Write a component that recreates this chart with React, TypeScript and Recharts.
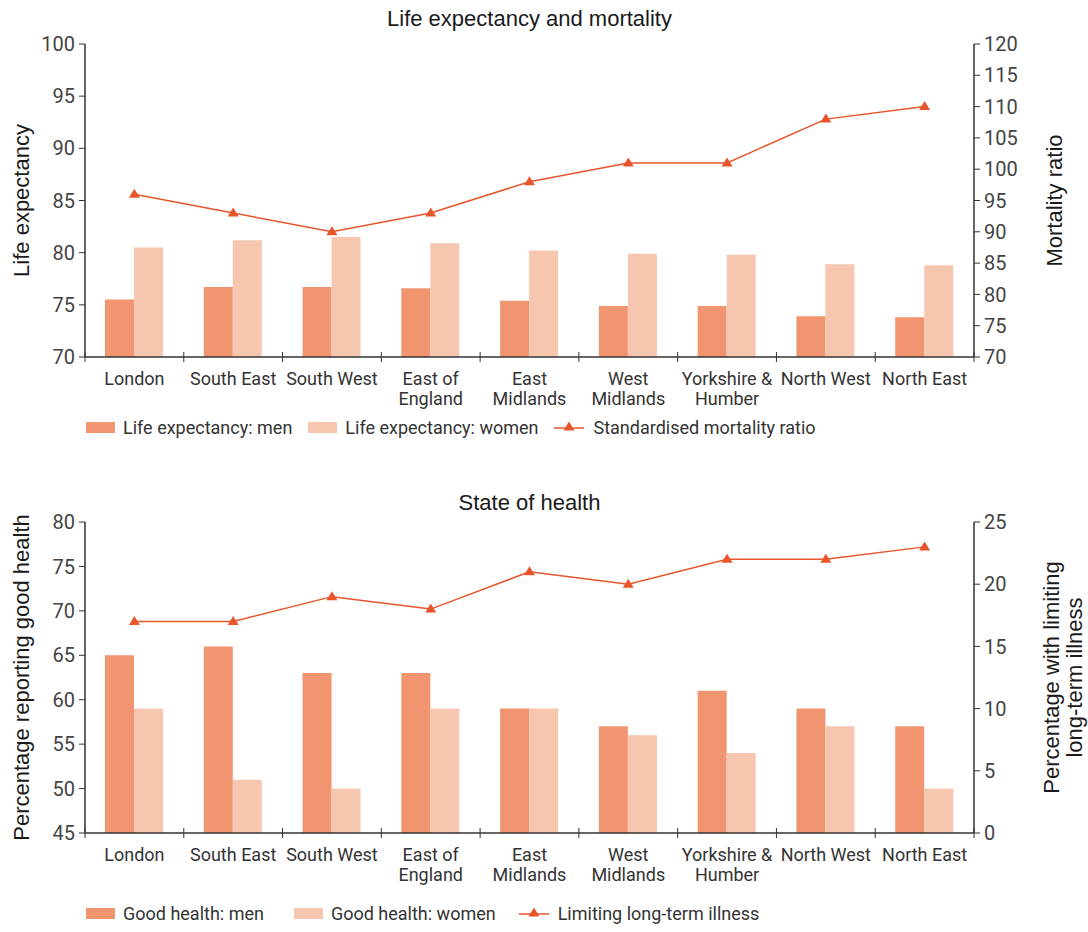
import { ComposedChart, Bar, Line, XAxis, YAxis, Label } from "recharts";

// categories (line breaks as they appear under the axis)
const regions = [
  "London",
  "South East",
  "South West",
  "East of\nEngland",
  "East\nMidlands",
  "West\nMidlands",
  "Yorkshire &\nHumber",
  "North West",
  "North East",
];

// life expectancy and mortality
const lifeMen = [75.5, 76.7, 76.7, 76.6, 75.4, 74.9, 74.9, 73.9, 73.8];
const lifeWomen = [80.5, 81.2, 81.5, 80.9, 80.2, 79.9, 79.8, 78.9, 78.8];
const mortality = [96, 93, 90, 93, 98, 101, 101, 108, 110];

// state of health
const healthMen = [65, 66, 63, 63, 59, 57, 61, 59, 57];
const healthWomen = [59, 51, 50, 59, 59, 56, 54, 57, 50];
const illness = [17, 17, 19, 18, 21, 20, 22, 22, 23];

const lifeTicks = [70, 75, 80, 85, 90, 95, 100];
const mortalityTicks = [70, 75, 80, 85, 90, 95, 100, 105, 110, 115, 120];
const healthTicks = [45, 50, 55, 60, 65, 70, 75, 80];
const illnessTicks = [0, 5, 10, 15, 20, 25];

const MEN = "#F0956F";
const WOMEN = "#F7C6AF";
const LINE = "#E8552B";
const AXIS = "#333333";
const LABEL_FONT = "'Liberation Sans', Arial, sans-serif";
const W = 1088;
const H = 420;
const XAXIS_H = 63;
const LEFT_W = 85;
const RIGHT_W = 114;
const BAND = (W - LEFT_W - RIGHT_W) / regions.length;

const lifeData = regions.map((region, i) => ({
  region,
  men: lifeMen[i],
  women: lifeWomen[i],
  line: mortality[i],
}));

const healthData = regions.map((region, i) => ({
  region,
  men: healthMen[i],
  women: healthWomen[i],
  line: illness[i],
}));

function Triangle(props: any) {
  const { cx, cy } = props;
  if (cx == null || cy == null) return null;
  return (
    <path
      d={`M${cx},${cy - 5.5} L${cx + 5.5},${cy + 3.5} L${cx - 5.5},${cy + 3.5} Z`}
      fill={LINE}
    />
  );
}

function RegionTick(props: any) {
  const { x, payload, index, axisY } = props;
  const lines = String(payload.value).split("\n");
  const last = index === regions.length - 1;
  return (
    <g>
      <line x1={x - BAND / 2} x2={x - BAND / 2} y1={axisY - 5} y2={axisY + 5} stroke={AXIS} />
      {last && (
        <line x1={x + BAND / 2} x2={x + BAND / 2} y1={axisY - 5} y2={axisY + 5} stroke={AXIS} />
      )}
      <text textAnchor="middle" fontSize={18} fill="#333">
        {lines.map((l, i) => (
          <tspan key={i} x={x} y={axisY + 28 + i * 20}>
            {l}
          </tspan>
        ))}
      </text>
    </g>
  );
}

function SideLabel(props: any) {
  const { viewBox, lines, dx } = props;
  if (!viewBox) return null;
  const cy = viewBox.y + viewBox.height / 2;
  const cx0 = viewBox.x + dx;
  return (
    <g>
      {lines.map((l: string, i: number) => {
        const cx = cx0 + (i - (lines.length - 1) / 2) * 23;
        return (
          <text
            key={i}
            x={cx}
            y={cy}
            textAnchor="middle"
            dominantBaseline="central"
            transform={`rotate(-90, ${cx}, ${cy})`}
            fontSize={22}
            fontFamily={LABEL_FONT}
            fill="#1a1a1a"
          >
            {l}
          </text>
        );
      })}
    </g>
  );
}

function LegendRow({ names, y, gaps }: { names: string[]; y: number; gaps: number[] }) {
  return (
    <div
      style={{
        position: "absolute",
        left: 86,
        top: y - 11,
        height: 22,
        display: "flex",
        alignItems: "center",
        fontSize: 18,
        color: "#333",
        whiteSpace: "nowrap",
      }}
    >
      <span style={{ width: 29, height: 11, background: MEN, marginRight: 8 }} />
      <span style={{ marginRight: gaps[0] }}>{names[0]}</span>
      <span style={{ width: 29, height: 11, background: WOMEN, marginRight: 8 }} />
      <span style={{ marginRight: gaps[1] }}>{names[1]}</span>
      <svg width={30} height={12} style={{ marginRight: 9 }}>
        <line x1={0} x2={30} y1={7} y2={7} stroke={LINE} strokeWidth={1.5} />
        <Triangle cx={15} cy={6} />
      </svg>
      <span>{names[2]}</span>
    </div>
  );
}

type PanelProps = {
  top: number;
  marginTop: number;
  title: string;
  titleY: number;
  data: any[];
  leftTicks: number[];
  rightTicks: number[];
  leftLabel: string[];
  rightLabel: string[];
  rightDx: number;
  legend: string[];
  legendY: number;
  legendGaps: number[];
};

function Panel(p: PanelProps) {
  const axisY = H - XAXIS_H;
  return (
    <div style={{ position: "absolute", left: 0, top: p.top, width: W, height: H }}>
      <div
        style={{
          position: "absolute",
          left: LEFT_W,
          width: W - LEFT_W - RIGHT_W,
          top: p.titleY - 13,
          textAlign: "center",
          fontSize: 22,
          lineHeight: "26px",
          fontFamily: LABEL_FONT,
          color: "#1a1a1a",
        }}
      >
        {p.title}
      </div>
      <ComposedChart
        width={W}
        height={H}
        data={p.data}
        margin={{ top: p.marginTop, right: 0, bottom: 0, left: 0 }}
        barGap={0}
      >
        <XAxis
          dataKey="region"
          height={XAXIS_H}
          interval={0}
          tickLine={false}
          axisLine={{ stroke: AXIS, strokeWidth: 1.5 }}
          tick={<RegionTick axisY={axisY} />}
        />
        <YAxis
          yAxisId="left"
          width={LEFT_W}
          domain={[p.leftTicks[0], p.leftTicks[p.leftTicks.length - 1]]}
          ticks={p.leftTicks}
          interval={0}
          allowDataOverflow
          tick={{ fontSize: 20, fill: "#444" }}
          tickSize={6}
          tickMargin={4}
          axisLine={{ stroke: AXIS, strokeWidth: 1.5 }}
          tickLine={{ stroke: AXIS }}
        >
          <Label content={<SideLabel lines={p.leftLabel} dx={21} />} />
        </YAxis>
        <YAxis
          yAxisId="right"
          orientation="right"
          width={RIGHT_W}
          domain={[p.rightTicks[0], p.rightTicks[p.rightTicks.length - 1]]}
          ticks={p.rightTicks}
          interval={0}
          allowDataOverflow
          tick={{ fontSize: 20, fill: "#444" }}
          tickSize={6}
          tickMargin={4}
          axisLine={{ stroke: AXIS, strokeWidth: 1.5 }}
          tickLine={{ stroke: AXIS }}
        >
          <Label content={<SideLabel lines={p.rightLabel} dx={p.rightDx} />} />
        </YAxis>
        <Bar yAxisId="left" dataKey="men" fill={MEN} barSize={29} isAnimationActive={false} />
        <Bar yAxisId="left" dataKey="women" fill={WOMEN} barSize={29} isAnimationActive={false} />
        <Line
          yAxisId="right"
          type="linear"
          dataKey="line"
          stroke={LINE}
          strokeWidth={1.5}
          dot={<Triangle />}
          activeDot={false}
          isAnimationActive={false}
        />
      </ComposedChart>
      <LegendRow names={p.legend} y={p.legendY} gaps={p.legendGaps} />
    </div>
  );
}

export default function App() {
  return (
    <div
      style={{
        position: "absolute",
        left: 0,
        top: 0,
        width: W,
        height: 932,
        background: "#fff",
        fontFamily: "Roboto, sans-serif",
      }}
    >
      <Panel
        top={0}
        marginTop={44}
        title="Life expectancy and mortality"
        titleY={19}
        data={lifeData}
        leftTicks={lifeTicks}
        rightTicks={mortalityTicks}
        leftLabel={["Life expectancy"]}
        rightLabel={["Mortality ratio"]}
        rightDx={80}
        legend={["Life expectancy: men", "Life expectancy: women", "Standardised mortality ratio"]}
        legendY={427}
        legendGaps={[16, 16]}
      />
      <Panel
        top={476}
        marginTop={46}
        title="State of health"
        titleY={27}
        data={healthData}
        leftTicks={healthTicks}
        rightTicks={illnessTicks}
        leftLabel={["Percentage reporting good health"]}
        rightLabel={["Percentage with limiting", "long-term illness"]}
        rightDx={89}
        legend={["Good health: men", "Good health: women", "Limiting long-term illness"]}
        legendY={437}
        legendGaps={[30, 23]}
      />
    </div>
  );
}
